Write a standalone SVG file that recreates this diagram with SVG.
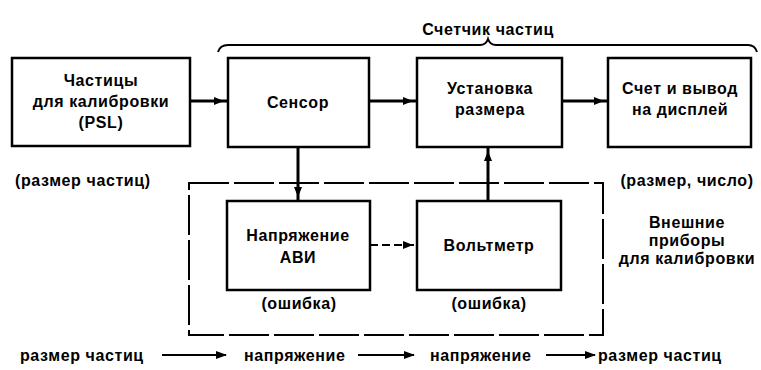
<svg xmlns="http://www.w3.org/2000/svg" width="761" height="370" viewBox="0 0 761 370">
<style>
.box{fill:#fff;stroke:#000;stroke-width:2.5}
.t{font-family:"Liberation Sans",Arial,sans-serif;font-size:16px;font-weight:bold;fill:#000;text-anchor:middle;letter-spacing:0.6px}
.tl{font-family:"Liberation Sans",Arial,sans-serif;font-size:16px;font-weight:bold;fill:#000;letter-spacing:0.6px}
.c{stroke:#000;stroke-width:3;fill:none}
.thin{stroke:#000;stroke-width:2;fill:none}
.dash{stroke:#000;stroke-width:2;fill:none;stroke-dasharray:40 5}
.ah{fill:#000}
</style>
<rect width="761" height="370" fill="#fff"/>

<g id="brace">
<path class="thin" d="M218,52 Q220,45 228,45 L480,45 Q486,45 488,39 Q490,45 496,45 L748,45 Q755,45 757,52"/>
<text class="t" x="488" y="35">Счетчик частиц</text>
</g>

<g id="node-psl">
<rect class="box" x="12" y="58" width="178" height="88"/>
<text class="t" x="101" y="86">Частицы</text>
<text class="t" x="101" y="107">для калибровки</text>
<text class="t" x="101" y="128">(PSL)</text>
</g>

<g id="node-sensor">
<rect class="box" x="228" y="58" width="141" height="89"/>
<text class="t" x="298" y="108">Сенсор</text>
</g>

<g id="node-size">
<rect class="box" x="417" y="58" width="145" height="89"/>
<text class="t" x="490" y="94">Установка</text>
<text class="t" x="490" y="115">размера</text>
</g>

<g id="node-count">
<rect class="box" x="608" y="58" width="143" height="89"/>
<text class="t" x="680" y="94">Счет и вывод</text>
<text class="t" x="680" y="115">на дисплей</text>
</g>

<g id="group-external">
<rect class="dash" x="189" y="183" width="414" height="152"/>
<text class="t" x="687" y="228">Внешние</text>
<text class="t" x="687" y="246">приборы</text>
<text class="t" x="687" y="264">для калибровки</text>
</g>

<g id="node-voltage">
<rect class="box" x="227" y="201" width="143" height="89"/>
<text class="t" x="298" y="241">Напряжение</text>
<text class="t" x="298" y="263">АВИ</text>
</g>

<g id="node-voltmeter">
<rect class="box" x="417" y="201" width="144" height="89"/>
<text class="t" x="489" y="251">Вольтметр</text>
</g>

<g id="labels">
<text class="tl" x="15" y="186">(размер частиц)</text>
<text class="t" x="687" y="186">(размер, число)</text>
<text class="t" x="299" y="309">(ошибка)</text>
<text class="t" x="489" y="309">(ошибка)</text>
</g>

<g id="connectors">
<line class="c" x1="190" y1="101" x2="228" y2="101"/>
<polygon class="ah" points="224,101 214,97 214,105"/>
<line class="c" x1="369" y1="101" x2="417" y2="101"/>
<polygon class="ah" points="413,101 403,97 403,105"/>
<line class="c" x1="562" y1="101" x2="608" y2="101"/>
<polygon class="ah" points="604,101 594,97 594,105"/>
<line class="c" x1="298" y1="147" x2="298" y2="201"/>
<polygon class="ah" points="298,197 294,187 302,187"/>
<line class="c" x1="488" y1="201" x2="488" y2="147"/>
<polygon class="ah" points="488,151 484,161 492,161"/>
<line class="thin" x1="370" y1="245" x2="417" y2="245" stroke-dasharray="8 4"/>
<polygon class="ah" points="413,245 403,241 403,249"/>
</g>

<g id="legend">
<text class="tl" x="20" y="361">размер частиц</text>
<line class="thin" x1="162" y1="355" x2="226" y2="355"/>
<polygon class="ah" points="227,355 216,351 216,359"/>
<text class="tl" x="244" y="361">напряжение</text>
<line class="thin" x1="358" y1="355" x2="414" y2="355"/>
<polygon class="ah" points="415,355 404,351 404,359"/>
<text class="tl" x="430" y="361">напряжение</text>
<line class="thin" x1="546" y1="355" x2="595" y2="355"/>
<polygon class="ah" points="596,355 585,351 585,359"/>
<text class="tl" x="598" y="361">размер частиц</text>
</g>
</svg>
